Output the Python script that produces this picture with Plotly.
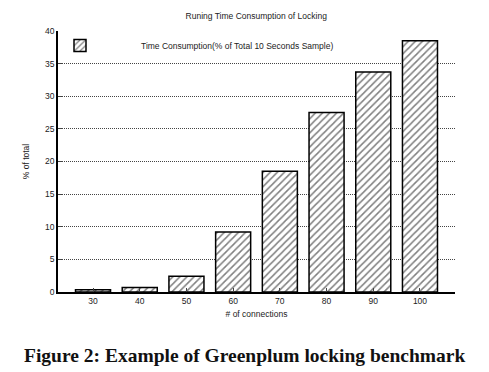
import plotly.graph_objects as go

connections = ["30", "40", "50", "60", "70", "80", "90", "100"]
pct_total = [0.35, 0.7, 2.4, 9.2, 18.5, 27.5, 33.7, 38.5]
y_ticks = [0, 5, 10, 15, 20, 25, 30, 35, 40]

positions = list(range(len(connections)))
FONT = "Liberation Sans, Arial, sans-serif"

fig = go.Figure()
fig.add_trace(go.Bar(
    x=positions, y=pct_total, width=0.75,
    name="Time Consumption(% of Total 10 Seconds Sample)",
    marker=dict(color="white",
                line=dict(color="black", width=1.5),
                pattern=dict(shape="/", fgcolor="#000", bgcolor="white",
                             size=5, solidity=0.3)),
    showlegend=True,
))

fig.update_layout(
    width=489, height=372,
    margin=dict(l=58, r=34, t=31, b=80),
    paper_bgcolor="white", plot_bgcolor="white",
    font=dict(family=FONT, size=8.5, color="#222"),
    title=dict(text="Runing Time Consumption of Locking", x=0.524, xanchor="center",
               y=1 - 16 / 372, yanchor="middle", font=dict(size=8.5, color="#222")),
    showlegend=True,
    legend=dict(x=(19 - 58) / 397, y=1.0, xanchor="left", yanchor="top",
                bgcolor="rgba(0,0,0,0)", itemwidth=112, font=dict(size=8.5, color="#222"),
                borderwidth=0, tracegroupgap=0),
    bargap=0.25,
    xaxis=dict(range=[-0.75, len(connections) - 0.25], tickmode="array",
               tickvals=positions, ticktext=connections,
               showline=True, linecolor="black", linewidth=1.5,
               ticks="inside", ticklen=4, tickcolor="#444",
               showgrid=False, zeroline=False,
               title=dict(text="# of connections", standoff=6, font=dict(size=8.5))),
    yaxis=dict(range=[0, 40], tickmode="array", tickvals=y_ticks,
               showline=True, linecolor="black", linewidth=1.5,
               ticks="inside", ticklen=4, tickcolor="#444",
               showgrid=True, gridcolor="#444", griddash="1px,1px", gridwidth=1,
               zeroline=False,
               title=dict(text="% of total", standoff=14, font=dict(size=8.5))),
    xaxis2=dict(overlaying="x", side="top", matches="x", range=[-0.75, len(connections) - 0.25],
                tickmode="array", tickvals=positions, showticklabels=False,
                ticks="inside", ticklen=4, tickcolor="#444",
                showline=False, showgrid=False, zeroline=False),
    yaxis2=dict(overlaying="y", side="right", matches="y", range=[0, 40],
                tickmode="array", tickvals=y_ticks, showticklabels=False,
                ticks="inside", ticklen=4, tickcolor="#222",
                showline=False, showgrid=False, zeroline=False, anchor="x"),
)

fig.add_annotation(
    text="<b>Figure 2: Example of Greenplum locking benchmark</b>",
    xref="paper", yref="paper", x=(244 - 58) / 397, y=-(355 - 292) / 261,
    xanchor="center", yanchor="middle", showarrow=False,
    font=dict(family="Liberation Serif, DejaVu Serif, serif", size=19.5, color="#111"),
)

fig.write_html("out.html", config={"displayModeBar": False},
               post_script="document.body.style.margin='0';document.body.style.padding='0';")
